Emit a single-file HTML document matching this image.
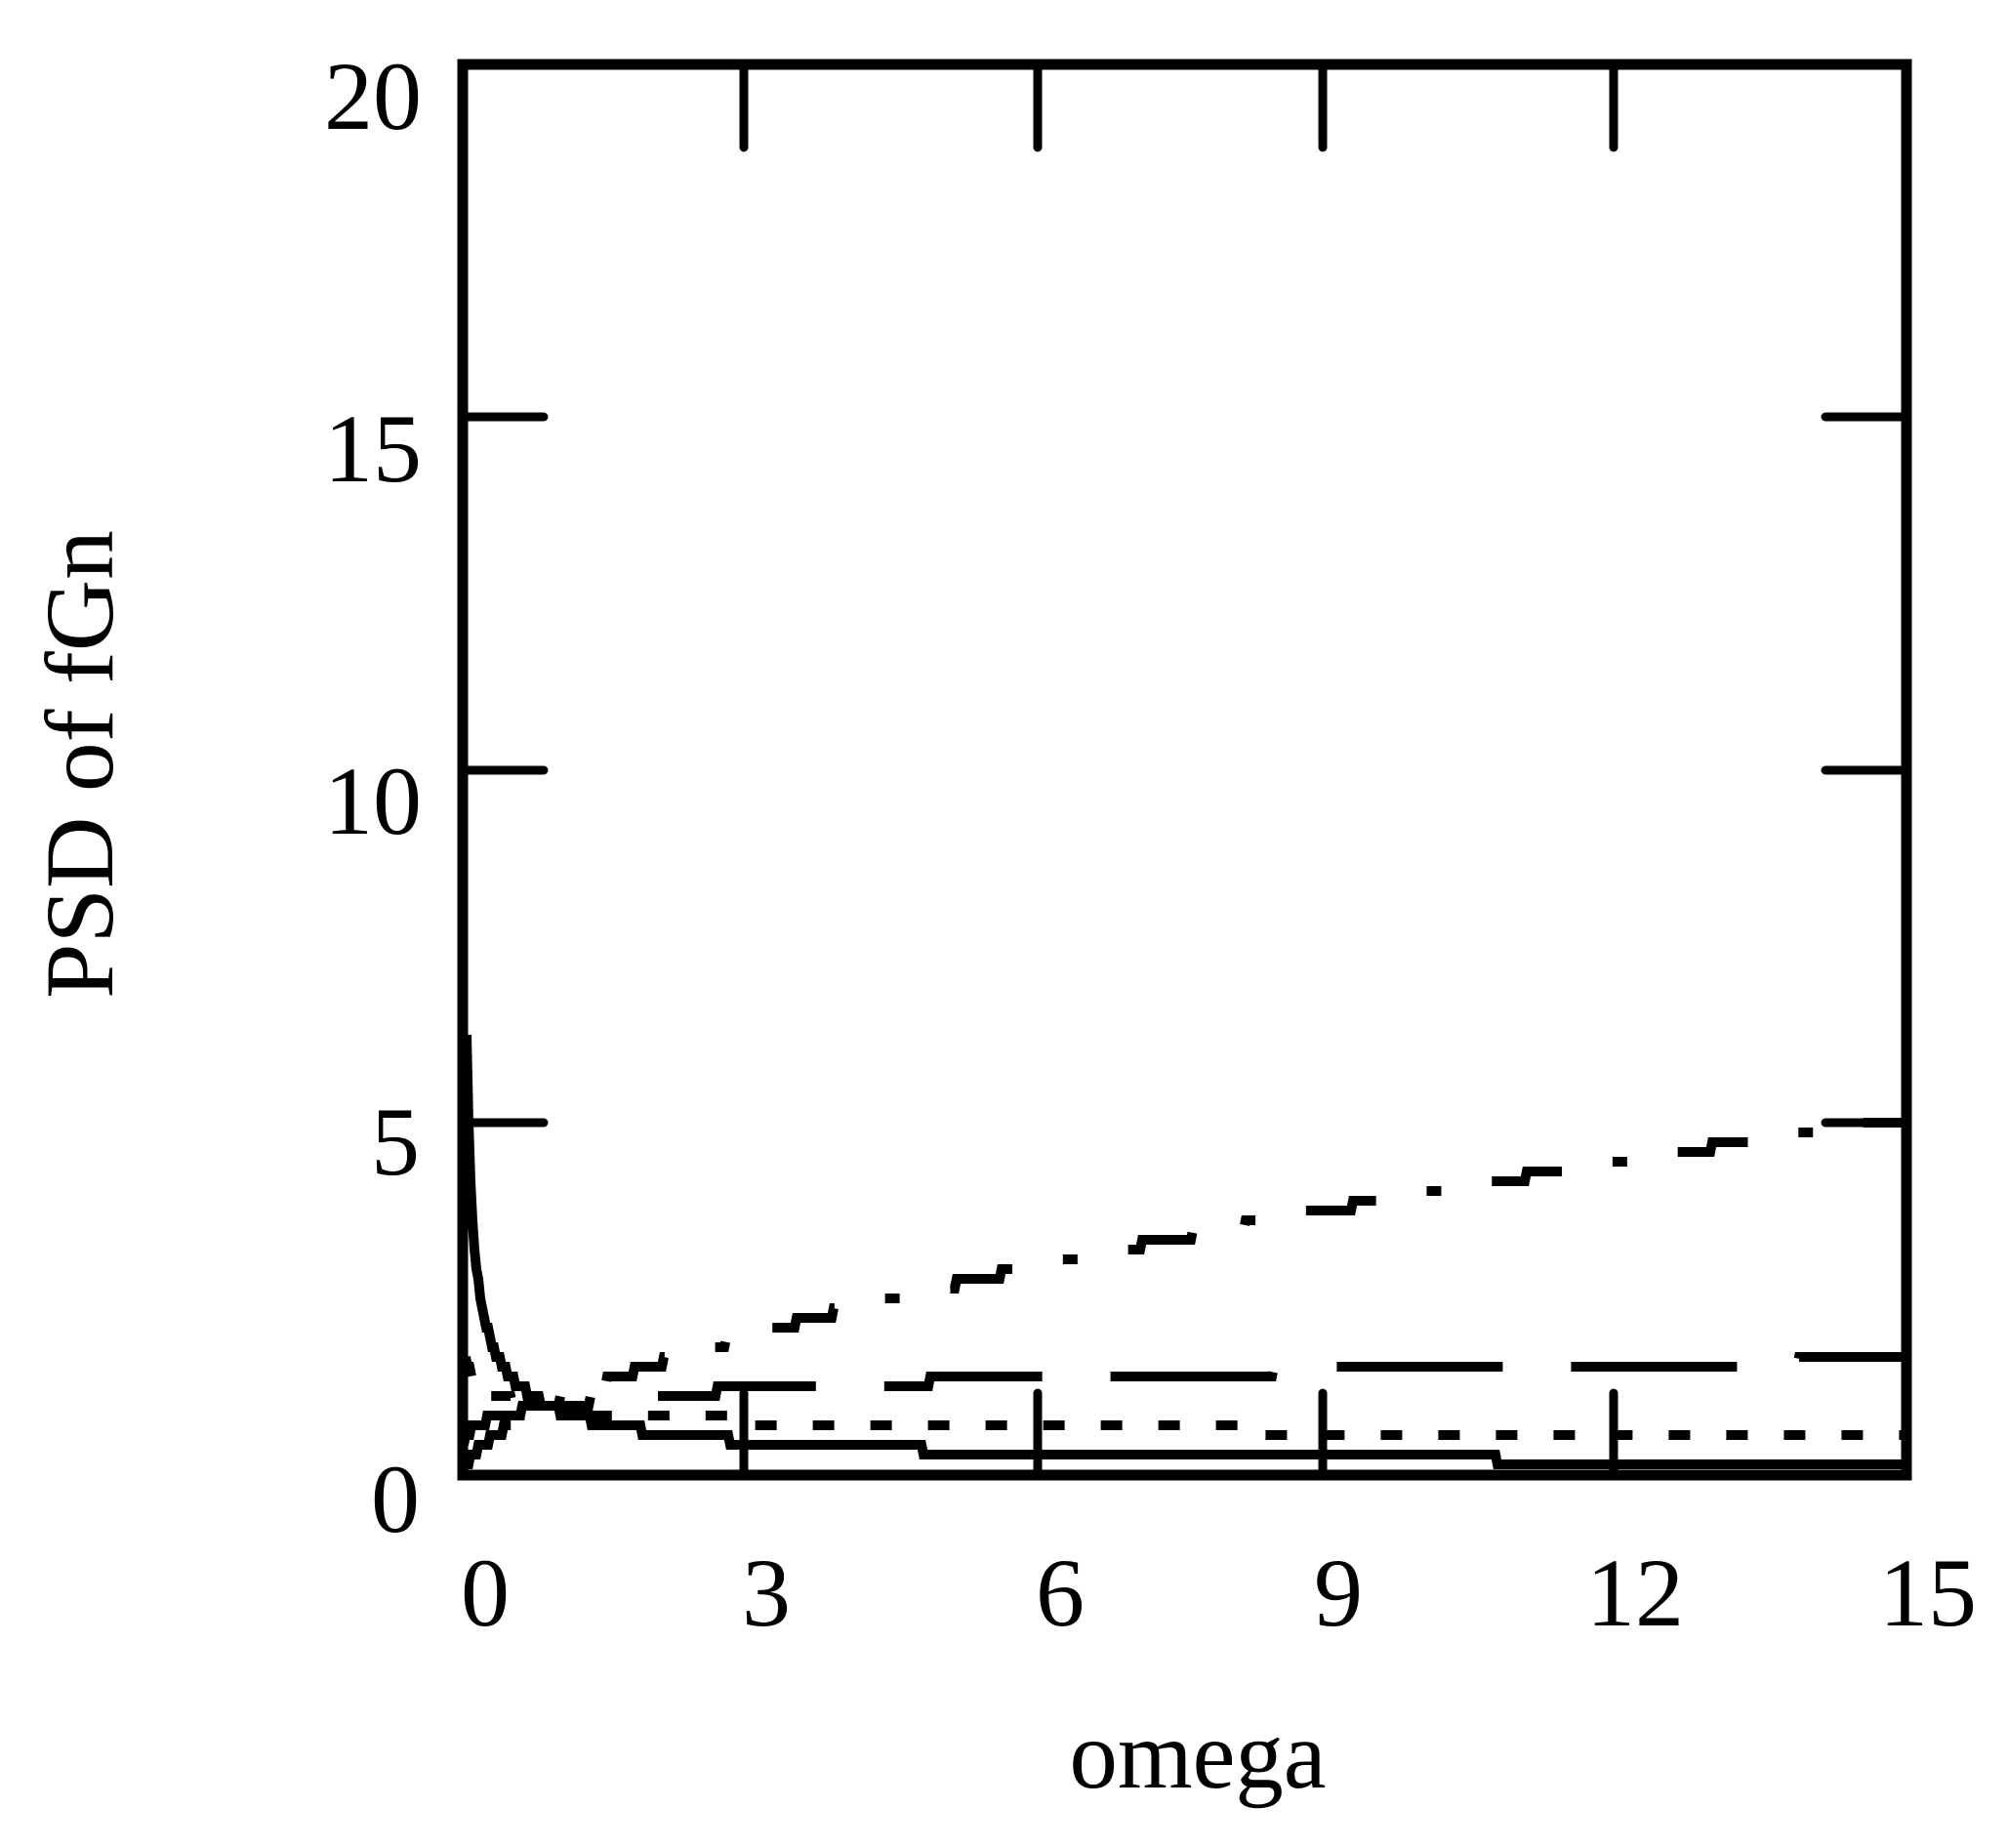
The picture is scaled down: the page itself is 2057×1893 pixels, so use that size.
<!DOCTYPE html>
<html><head><meta charset="utf-8"><style>
html,body{margin:0;padding:0;background:#fff;}
svg{display:block;}
text{font-family:"Liberation Serif",serif;fill:#000;}
</style></head><body>
<svg id="s" width="2057" height="1893" viewBox="0 0 2057 1893" xmlns="http://www.w3.org/2000/svg">
<rect width="2057" height="1893" fill="#fff"/>
<g id="curves" fill="none" stroke="#000" stroke-width="10"></g>
<rect x="474" y="66" width="1479" height="1445" fill="none" stroke="#000" stroke-width="11"/>
<g stroke="#000" stroke-width="9" stroke-linecap="round">
<line x1="762" y1="66" x2="762" y2="151"/><line x1="1063" y1="66" x2="1063" y2="151"/>
<line x1="1355" y1="66" x2="1355" y2="151"/><line x1="1653" y1="66" x2="1653" y2="151"/>
<line x1="762" y1="1511" x2="762" y2="1427"/><line x1="1063" y1="1511" x2="1063" y2="1427"/>
<line x1="1355" y1="1511" x2="1355" y2="1427"/><line x1="1653" y1="1511" x2="1653" y2="1427"/>
<line x1="474" y1="1150" x2="557" y2="1150"/><line x1="474" y1="789" x2="557" y2="789"/><line x1="474" y1="427" x2="557" y2="427"/>
<line x1="1870" y1="1150" x2="1953" y2="1150"/><line x1="1870" y1="789" x2="1953" y2="789"/><line x1="1870" y1="427" x2="1953" y2="427"/>
</g>
<g font-size="100" text-anchor="end">
<text x="432" y="132">20</text><text x="432" y="493">15</text><text x="432" y="854">10</text>
<text x="430" y="1203">5</text><text x="430" y="1569">0</text>
</g>
<g font-size="100" text-anchor="middle">
<text x="497" y="1665">0</text><text x="785" y="1665">3</text><text x="1086" y="1665">6</text>
<text x="1371" y="1665">9</text><text x="1675" y="1665">12</text><text x="1975" y="1665">15</text>
<text x="1227" y="1831" textLength="263" lengthAdjust="spacingAndGlyphs">omega</text>
<text transform="translate(115,783) rotate(-90)" x="0" y="0" textLength="480" lengthAdjust="spacingAndGlyphs">PSD of fGn</text>
</g>
</svg>
<script>
(function(){
var g=document.getElementById('curves');
function X(w){return 474+w*98.6;}
function Y(v){return 1511-v*72.25;}
function mk(f,w0,dash){
  var pts=[];var px0=Math.ceil(X(w0));
  for(var px=px0;px<=1950;px+=2){
    var w=(px-474)/98.6; if(w<w0)w=w0;
    var y=Y(f(w)); y=Math.round(y/10)*10; if(y<66)y=66; if(y>1506)y=1506;
    pts.push(px+','+y);
  }
  var p=document.createElementNS('http://www.w3.org/2000/svg','polyline');
  p.setAttribute('points',pts.join(' '));
  if(dash)p.setAttribute('stroke-dasharray',dash);
  g.appendChild(p);
}
mk(function(w){return 0.92*Math.pow(w,-0.6);},0.035,null);
mk(function(w){return 0.93*Math.pow(w,-0.18);},0.03,'22 37');
mk(function(w){return 1.0*Math.pow(w,0.18);},0.0005,'170 70');
mk(function(w){return 1.052*Math.pow(w,0.58);},0.02,'80 60 15 60');
})();
</script>
</body></html>
